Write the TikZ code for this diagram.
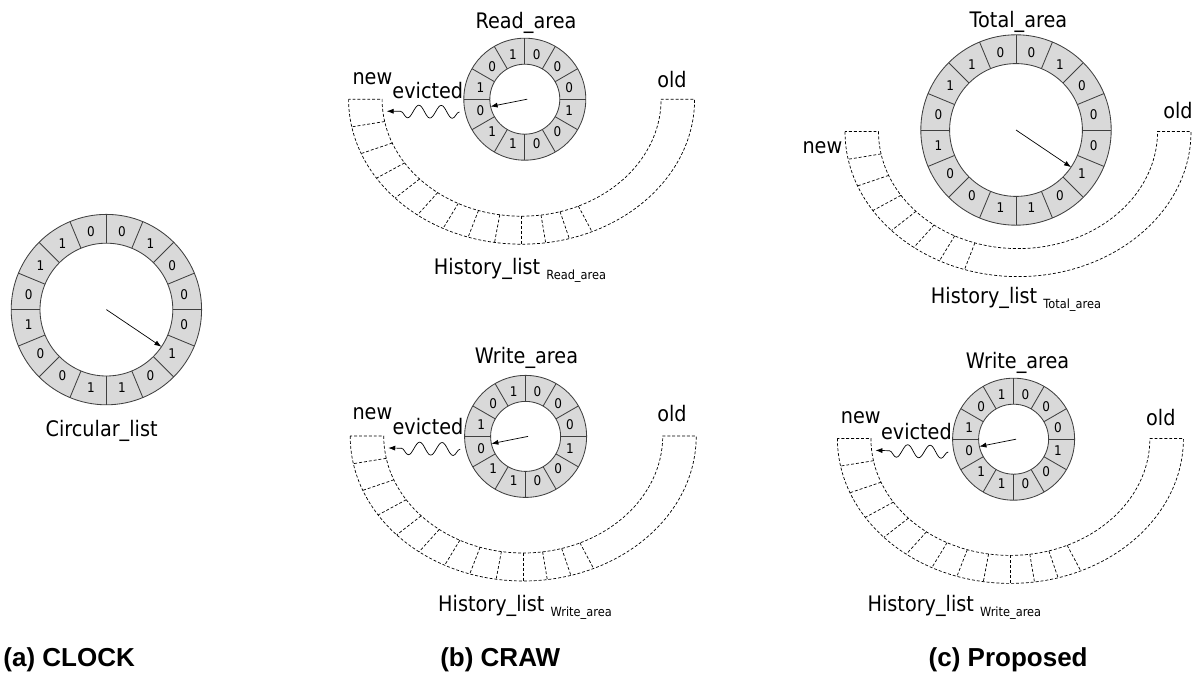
\documentclass[tikz,border=0pt]{standalone}
\usepackage{fontspec}
\setmainfont{DejaVu Sans}[FakeStretch=0.9]
\newfontfamily\capfont{Liberation Sans}
\usetikzlibrary{arrows.meta,decorations.pathmorphing}
\definecolor{cellgray}{RGB}{217,217,217}
\newcommand{\lblsize}{\fontsize{15.2}{18}\selectfont}
\newcommand{\subsize}{\fontsize{9}{10}\selectfont}
\newcommand{\bitsize}{\fontsize{9.5}{11}\selectfont}
\newcommand{\capsize}{\capfont\bfseries\fontsize{18.5}{22}\selectfont}
\tikzset{
  ringline/.style={draw=black!75, line width=0.6pt},
  histline/.style={draw=black, line width=0.5pt, dash pattern=on 2.1pt off 1.4pt},
  bit/.style={font=\bitsize, inner sep=0pt},
  txt/.style={font=\lblsize, inner sep=0pt, anchor=base},
  caption/.style={font=\capsize, inner sep=0pt, anchor=base west},
  pointer/.style={->, line width=0.5pt},
  evict/.style={->, line width=0.5pt, decorate,
    decoration={snake, amplitude=0.16cm, segment length=0.56cm, post length=0.2cm}},
  bigring/.pic={
    \fill[cellgray, even odd rule] (0,0) circle (2.38) (0,0) circle (1.66);
    \draw[ringline] (0,0) circle (2.38) (0,0) circle (1.66);
    \foreach \a in {0,22.5,...,337.5} \draw[ringline] (\a:1.66) -- (\a:2.38);
    \foreach \b [count=\i] in {0,1,0,0,0,1,0,1,1,0,0,1,0,1,1,0}
      \node[bit] (-bit\i) at ({101.25-22.5*\i}:1.98) {\b};
    \coordinate (-hand) at (0,0);
    \coordinate (-tip) at (-34:1.66);
  },
  smallring/.pic={
    \fill[cellgray, even odd rule] (0,0) circle (1.525) (0,0) circle (0.875);
    \draw[ringline] (0,0) circle (1.525) (0,0) circle (0.875);
    \foreach \a in {0,30,...,330} \draw[ringline] (\a:0.875) -- (\a:1.525);
    \foreach \b [count=\i] in {0,0,0,1,0,0,1,1,0,1,0,1}
      \node[bit] (-bit\i) at ({105-30*\i}:1.15) {\b};
    \coordinate (-hand) at (0.06,0);
    \coordinate (-tip) at (192:0.875);
    \coordinate (-out) at (-1.635,-0.32);
  },
  history/.pic={
    \draw[histline] (180:4.325cm and 3.625cm)
      arc[start angle=180, end angle=360, x radius=4.325cm, y radius=3.625cm]
      -- (0:3.4875cm and 2.925cm)
      arc[start angle=360, end angle=180, x radius=3.4875cm, y radius=2.925cm] -- cycle;
    \foreach \a [count=\k] in {191,202,213,223,233,243,252,261,270,278,286,294}
      {\ifnum\k>#1\else\draw[histline] (\a:3.4875cm and 2.925cm) -- (\a:4.325cm and 3.625cm);\fi}
    \coordinate (-in) at (-3.375,-0.3);
  }
}
\begin{document}
\begin{tikzpicture}[>={Latex[length=5pt,width=3.6pt]}]
\useasboundingbox (0,0) rectangle (29.85,-16.9);

\pic (clock) at (2.66,-7.74) {bigring};
\draw[pointer] (clock-hand) -- (clock-tip);
\node[txt] (clockname) at (2.54,-10.92) {Circular\_list};
\node[caption] (capa) at (0.08,-16.67) {(a) CLOCK};

\pic (readring) at (13.12,-2.48) {smallring};
\pic (readhist) at (13.04,-2.48) {history=12};
\draw[pointer] (readring-hand) -- (readring-tip);
\draw[evict] (readring-out) -- (readhist-in);
\node[txt] (readname) at (13.15,-0.71) {Read\_area};
\node[txt] (readnew) at (9.31,-2.125) {new};
\node[txt] (readevict) at (10.695,-2.475) {evicted};
\node[txt] (readold) at (16.8,-2.18) {old};
\node[txt] (readlist) at (13.0,-6.875) {History\_list \raisebox{-3.5pt}{\subsize Read\_area}};

\pic (writering) at (13.14,-10.91) {smallring};
\pic (writehist) at (13.08,-10.9) {history=12};
\draw[pointer] (writering-hand) -- (writering-tip);
\draw[evict] (writering-out) -- (writehist-in);
\node[txt] (writename) at (13.16,-9.08) {Write\_area};
\node[txt] (writenew) at (9.31,-10.5) {new};
\node[txt] (writeevict) at (10.7,-10.875) {evicted};
\node[txt] (writeold) at (16.8,-10.55) {old};
\node[txt] (writelist) at (13.125,-15.29) {History\_list \raisebox{-3.5pt}{\subsize Write\_area}};
\node[caption] (capb) at (11.0,-16.67) {(b) CRAW};

\pic (totalring) at (25.4,-3.25) {bigring};
\pic (totalhist) at (25.45,-3.29) {history=7};
\draw[pointer] (totalring-hand) -- (totalring-tip);
\node[txt] (totalname) at (25.46,-0.68) {Total\_area};
\node[txt] (totalnew) at (20.56,-3.83) {new};
\node[txt] (totalold) at (29.45,-2.96) {old};
\node[txt] (totallist) at (25.4,-7.6) {History\_list \raisebox{-3.5pt}{\subsize Total\_area}};

\pic (propring) at (25.34,-10.98) {smallring};
\pic (prophist) at (25.26,-10.96) {history=12};
\draw[pointer] (propring-hand) -- (propring-tip);
\draw[evict] (propring-out) -- (prophist-in);
\node[txt] (propname) at (25.44,-9.21) {Write\_area};
\node[txt] (propnew) at (21.52,-10.6) {new};
\node[txt] (propevict) at (22.91,-10.98) {evicted};
\node[txt] (propold) at (29.02,-10.65) {old};
\node[txt] (proplist) at (23.86,-15.28) {History\_list \raisebox{-3.5pt}{\subsize Write\_area}};
\node[caption] (capc) at (23.21,-16.67) {(c) Proposed};
\end{tikzpicture}
\end{document}
